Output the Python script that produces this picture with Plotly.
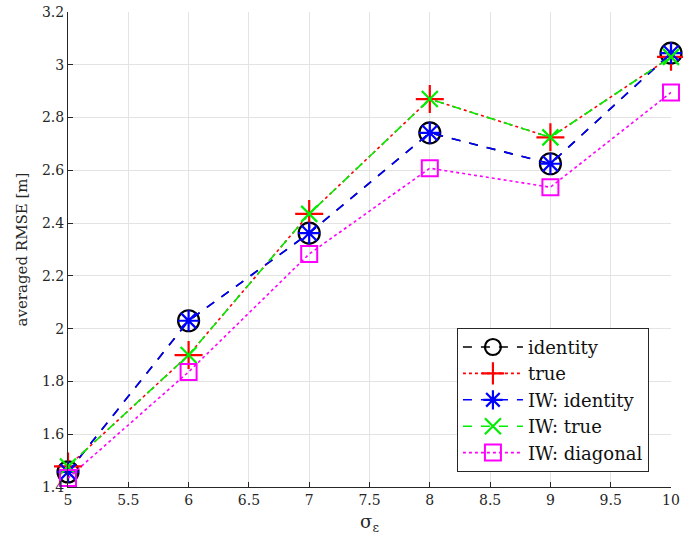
import plotly.graph_objects as go

sigma = [5, 6, 7, 8, 9, 10]
rmse_identity = [1.457, 2.030, 2.362, 2.742, 2.625, 3.044]
rmse_true = [1.478, 1.900, 2.435, 2.870, 2.725, 3.030]
rmse_iw_identity = [1.457, 2.030, 2.362, 2.742, 2.625, 3.044]
rmse_iw_true = [1.478, 1.900, 2.435, 2.870, 2.725, 3.030]
rmse_iw_diagonal = [1.434, 1.836, 2.283, 2.608, 2.536, 2.895]

x_ticks = [5, 5.5, 6, 6.5, 7, 7.5, 8, 8.5, 9, 9.5, 10]
y_ticks = [1.4, 1.6, 1.8, 2.0, 2.2, 2.4, 2.6, 2.8, 3.0, 3.2]
y_tick_text = ["1.4", "1.6", "1.8", "2", "2.2", "2.4", "2.6", "2.8", "3", "3.2"]

series = [
    ("identity", rmse_identity, "black", "dash", "circle-open", 21, 2.2),
    ("true", rmse_true, "red", "dot", "cross-thin-open", 20, 2.2),
    ("IW: identity", rmse_iw_identity, "blue", "dash", "asterisk-open", 18, 2.2),
    ("IW: true", rmse_iw_true, "#00ee00", "dash", "x-thin-open", 16, 2.2),
    ("IW: diagonal", rmse_iw_diagonal, "magenta", "dot", "square-open", 16, 2.0),
]

fig = go.Figure()
for name, vals, color, dash, symbol, size, mw in series:
    fig.add_trace(go.Scatter(
        x=sigma, y=vals, name=name, mode="lines+markers",
        line=dict(color=color, dash=dash, width=1.6),
        marker=dict(symbol=symbol, size=size, color=color,
                    line=dict(color=color, width=mw)),
        cliponaxis=False,
    ))

font_family = "DejaVu Serif"

fig.update_layout(
    width=683, height=544,
    margin=dict(l=68, r=12, t=12, b=57),
    paper_bgcolor="white", plot_bgcolor="white",
    font=dict(family=font_family, size=14, color="#262626"),
    showlegend=True,
    legend=dict(
        x=0.645, y=0.032, xanchor="left", yanchor="bottom",
        bgcolor="white", bordercolor="#262626", borderwidth=1,
        font=dict(family=font_family, size=18, color="#111111"),
        itemwidth=60, tracegroupgap=0,
    ),
    xaxis=dict(
        range=[5, 10], tickvals=x_ticks,
        ticktext=[("%g" % v) for v in x_ticks],
        showgrid=True, gridcolor="#e3e3e3", gridwidth=1,
        showline=True, linecolor="#262626", linewidth=1,
        ticks="inside", ticklen=5, tickcolor="#262626",
        zeroline=False, automargin=False,
        title=dict(text="σ<sub>ε</sub>", font=dict(size=18), standoff=8),
    ),
    yaxis=dict(
        range=[1.4, 3.2], tickvals=y_ticks, ticktext=y_tick_text,
        showgrid=True, gridcolor="#e3e3e3", gridwidth=1,
        showline=True, linecolor="#262626", linewidth=1,
        ticks="inside", ticklen=5, tickcolor="#262626",
        zeroline=False, automargin=False,
        title=dict(text="averaged RMSE [m]", font=dict(size=15), standoff=10),
    ),
)

fig.write_html("out.html")
